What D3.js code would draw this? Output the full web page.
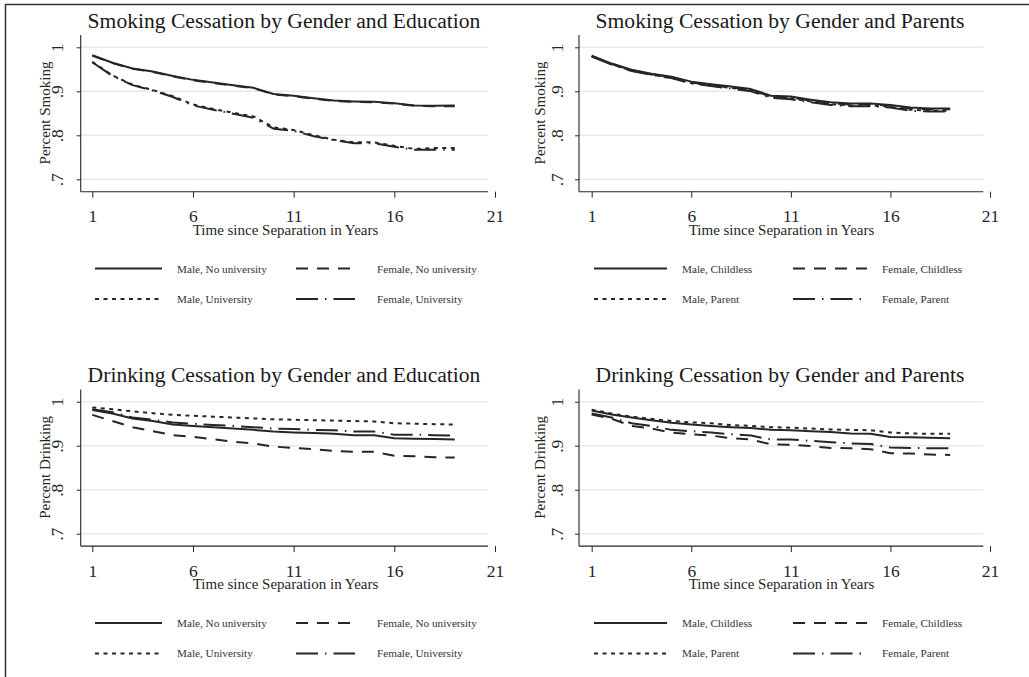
<!DOCTYPE html>
<html>
<head>
<meta charset="utf-8">
<script src="https://cdn.jsdelivr.net/npm/d3@7"></script>
<style>
  html, body { margin: 0; padding: 0; background: #fff; }
  svg { display: block; font-family: "Liberation Serif", "Times New Roman", serif; }
</style>
</head>
<body>
<svg id="chart" width="1029" height="677"></svg>
<script>
// ---- data -------------------------------------------------------------
const years = [1, 2, 3, 4, 5, 6, 7, 8, 9, 10, 11, 12, 13, 14, 15, 16, 17, 18, 19];
const xTicks = [1, 6, 11, 16, 21];
const yTicks = [0.7, 0.8, 0.9, 1];
const yTickLabels = [".7", ".8", ".9", "1"];

const panelTitles = [
  "Smoking Cessation by Gender and Education",
  "Smoking Cessation by Gender and Parents",
  "Drinking Cessation by Gender and Education",
  "Drinking Cessation by Gender and Parents"
];
const yTitles = ["Percent Smoking", "Percent Smoking", "Percent Drinking", "Percent Drinking"];
const xTitle = "Time since Separation in Years";

const eduLabels = ["Male, No university", "Female, No university", "Male, University", "Female, University"];
const parLabels = ["Male, Childless", "Female, Childless", "Male, Parent", "Female, Parent"];

// Smoking, by gender and education
const smokeMaleNoUni   = [0.982, 0.965, 0.952, 0.945, 0.935, 0.926, 0.920, 0.914, 0.908, 0.894, 0.890, 0.884, 0.879, 0.877, 0.876, 0.873, 0.868, 0.867, 0.868];
const smokeFemaleNoUni = [0.981, 0.964, 0.951, 0.944, 0.934, 0.925, 0.919, 0.913, 0.907, 0.893, 0.889, 0.883, 0.878, 0.876, 0.875, 0.872, 0.867, 0.866, 0.866];
const smokeMaleUni     = [0.967, 0.936, 0.915, 0.903, 0.889, 0.870, 0.860, 0.851, 0.843, 0.818, 0.812, 0.800, 0.790, 0.784, 0.784, 0.776, 0.769, 0.771, 0.771];
const smokeFemaleUni   = [0.966, 0.935, 0.914, 0.902, 0.887, 0.868, 0.858, 0.849, 0.840, 0.815, 0.810, 0.798, 0.789, 0.782, 0.782, 0.774, 0.767, 0.767, 0.767];

// Smoking, by gender and parenthood
const smokeMaleChildless   = [0.981, 0.963, 0.949, 0.940, 0.933, 0.922, 0.916, 0.911, 0.905, 0.890, 0.888, 0.881, 0.875, 0.872, 0.872, 0.869, 0.863, 0.861, 0.861];
const smokeFemaleChildless = [0.980, 0.962, 0.948, 0.939, 0.932, 0.920, 0.914, 0.909, 0.903, 0.888, 0.886, 0.879, 0.873, 0.870, 0.870, 0.867, 0.861, 0.859, 0.859];
const smokeMaleParent      = [0.980, 0.962, 0.947, 0.938, 0.931, 0.919, 0.913, 0.908, 0.902, 0.887, 0.884, 0.877, 0.871, 0.868, 0.868, 0.865, 0.858, 0.856, 0.856];
const smokeFemaleParent    = [0.979, 0.961, 0.946, 0.937, 0.930, 0.918, 0.912, 0.906, 0.900, 0.885, 0.882, 0.875, 0.869, 0.866, 0.866, 0.863, 0.856, 0.854, 0.854];

// Drinking, by gender and education
const drinkMaleNoUni   = [0.981, 0.973, 0.962, 0.956, 0.948, 0.945, 0.942, 0.939, 0.936, 0.932, 0.930, 0.929, 0.927, 0.924, 0.924, 0.917, 0.916, 0.915, 0.914];
const drinkFemaleNoUni = [0.970, 0.956, 0.942, 0.933, 0.924, 0.920, 0.915, 0.909, 0.905, 0.898, 0.895, 0.892, 0.888, 0.886, 0.886, 0.877, 0.876, 0.874, 0.873];
const drinkMaleUni     = [0.987, 0.983, 0.978, 0.974, 0.970, 0.968, 0.966, 0.964, 0.962, 0.960, 0.959, 0.958, 0.957, 0.956, 0.955, 0.951, 0.950, 0.949, 0.948];
const drinkFemaleUni   = [0.983, 0.976, 0.964, 0.959, 0.953, 0.950, 0.947, 0.945, 0.942, 0.939, 0.938, 0.936, 0.935, 0.932, 0.932, 0.925, 0.925, 0.924, 0.923];

// Drinking, by gender and parenthood
const drinkMaleChildless   = [0.980, 0.971, 0.964, 0.958, 0.952, 0.948, 0.945, 0.942, 0.940, 0.936, 0.935, 0.933, 0.931, 0.928, 0.927, 0.920, 0.919, 0.918, 0.917];
const drinkFemaleChildless = [0.971, 0.961, 0.945, 0.939, 0.930, 0.926, 0.923, 0.917, 0.914, 0.903, 0.902, 0.899, 0.895, 0.894, 0.892, 0.883, 0.882, 0.880, 0.879];
const drinkMaleParent      = [0.982, 0.973, 0.966, 0.961, 0.956, 0.953, 0.951, 0.947, 0.945, 0.942, 0.941, 0.939, 0.937, 0.936, 0.935, 0.930, 0.928, 0.927, 0.927];
const drinkFemaleParent    = [0.973, 0.964, 0.951, 0.945, 0.936, 0.933, 0.930, 0.926, 0.923, 0.914, 0.914, 0.911, 0.908, 0.905, 0.904, 0.896, 0.895, 0.894, 0.894];

// ---- styling ------------------------------------------------------------
const ink = "#262626";
const gridColor = "#e9e9e9";
// solid, dash, short dash, long dash-dot (one entry per series slot)
const dashes = [null, "12,9", "4,4.5", "22,7,1.5,7"];

// panel geometry (y axis position, x range, end of x axis line, vertical offset)
const layout = [
  { axisX: 80.7, x0: 92.3, x1: 495,   xEnd: 488,   dy: 0,     titleX: 284, xTitleX: 285.5, yTitleX: 49.6,  tickLabX: 63.2,
    legLine: [[95, 162], [296, 355]], legText: [177, 377] },
  { axisX: 579,  x0: 591.7, x1: 990,  xEnd: 983.3, dy: 0,     titleX: 780, xTitleX: 781.5, yTitleX: 544.6, tickLabX: 563.2,
    legLine: [[594, 667], [793, 867]], legText: [682, 882] },
  { axisX: 80.7, x0: 92.3, x1: 495,   xEnd: 488,   dy: 354.4, titleX: 284, xTitleX: 285.5, yTitleX: 49.6,  tickLabX: 63.2,
    legLine: [[95, 162], [296, 355]], legText: [177, 377] },
  { axisX: 579,  x0: 591.7, x1: 990,  xEnd: 983.3, dy: 354.4, titleX: 780, xTitleX: 781.5, yTitleX: 544.6, tickLabX: 563.2,
    legLine: [[594, 667], [793, 867]], legText: [682, 882] }
];

const panelSeries = [
  [smokeMaleNoUni, smokeFemaleNoUni, smokeMaleUni, smokeFemaleUni],
  [smokeMaleChildless, smokeFemaleChildless, smokeMaleParent, smokeFemaleParent],
  [drinkMaleNoUni, drinkFemaleNoUni, drinkMaleUni, drinkFemaleUni],
  [drinkMaleChildless, drinkFemaleChildless, drinkMaleParent, drinkFemaleParent]
];
const panelLegend = [eduLabels, parLabels, eduLabels, parLabels];

// ---- drawing ------------------------------------------------------------
const svg = d3.select("#chart");
svg.append("rect").attr("width", 1029).attr("height", 677).attr("fill", "#fff");

// outer frame (top and left edges)
svg.append("line").attr("x1", 5).attr("x2", 1029).attr("y1", 4.5).attr("y2", 4.5)
  .attr("stroke", "#333").attr("stroke-width", 1.5);
svg.append("line").attr("x1", 5.5).attr("x2", 5.5).attr("y1", 4).attr("y2", 677)
  .attr("stroke", "#333").attr("stroke-width", 1.5);

layout.forEach((L, i) => {
  const g = svg.append("g");
  const x = d3.scaleLinear().domain([1, 21]).range([L.x0, L.x1]);
  const y = d3.scaleLinear().domain([0.7, 1]).range([179.3 + L.dy, 47.3 + L.dy]);
  const yTop = 35 + L.dy, yBot = 191.7 + L.dy;

  // grid
  g.append("g").selectAll("line").data(yTicks).join("line")
    .attr("x1", L.axisX).attr("x2", L.xEnd)
    .attr("y1", d => y(d)).attr("y2", d => y(d))
    .attr("stroke", gridColor).attr("stroke-width", 1.6);

  // x axis
  const xAxis = d3.axisBottom(x).tickValues(xTicks).tickSize(6).tickFormat(d3.format("d"));
  const gx = g.append("g").attr("transform", `translate(0,${yBot})`).call(xAxis);
  gx.select(".domain").remove();
  gx.selectAll(".tick line").attr("stroke", ink).attr("stroke-width", 1);
  gx.selectAll(".tick text").attr("font-size", 17.5).attr("fill", ink)
    .attr("y", 30.6).attr("dy", 0).attr("font-family", "Liberation Serif");
  g.append("line").attr("x1", L.axisX).attr("x2", L.xEnd).attr("y1", yBot).attr("y2", yBot)
    .attr("stroke", ink).attr("stroke-width", 1.1);

  // y axis
  const yAxis = d3.axisLeft(y).tickValues(yTicks).tickSize(4).tickFormat((d, k) => yTickLabels[k]);
  const gy = g.append("g").attr("transform", `translate(${L.axisX},0)`).call(yAxis);
  gy.select(".domain").remove();
  gy.selectAll(".tick line").attr("stroke", ink).attr("stroke-width", 1);
  gy.selectAll(".tick text").attr("font-size", 17.5).attr("fill", ink)
    .attr("font-family", "Liberation Serif")
    .attr("x", null).attr("dy", null)
    .attr("text-anchor", "middle")
    .attr("transform", `translate(${L.tickLabX - L.axisX},0) rotate(-90)`);
  g.append("line").attr("x1", L.axisX).attr("x2", L.axisX).attr("y1", yTop).attr("y2", yBot)
    .attr("stroke", ink).attr("stroke-width", 1.1);

  // series
  const line = d3.line().x((d, k) => x(years[k])).y(d => y(d));
  panelSeries[i].forEach((vals, s) => {
    g.append("path").datum(vals)
      .attr("d", line)
      .attr("fill", "none")
      .attr("stroke", ink)
      .attr("stroke-width", 2)
      .attr("stroke-linejoin", "round")
      .attr("stroke-dasharray", dashes[s]);
  });

  // titles
  g.append("text").attr("x", L.titleX).attr("y", 28 + L.dy)
    .attr("text-anchor", "middle").attr("font-size", 21.6).attr("fill", "#1a1a1a")
    .text(panelTitles[i]);
  g.append("text").attr("x", L.xTitleX).attr("y", 235 + L.dy)
    .attr("text-anchor", "middle").attr("font-size", 15).attr("fill", ink)
    .text(xTitle);
  g.append("text")
    .attr("transform", `translate(${L.yTitleX},${113 + L.dy}) rotate(-90)`)
    .attr("text-anchor", "middle").attr("font-size", 15).attr("fill", ink)
    .text(yTitles[i]);

  // legend: 2 x 2
  const rows = [268.5 + L.dy, 299 + L.dy];
  panelLegend[i].forEach((lab, s) => {
    const r = Math.floor(s / 2), c = s % 2;
    g.append("line")
      .attr("x1", L.legLine[c][0]).attr("x2", L.legLine[c][1])
      .attr("y1", rows[r]).attr("y2", rows[r])
      .attr("stroke", ink).attr("stroke-width", 2)
      .attr("stroke-dasharray", dashes[s]);
    g.append("text").attr("x", L.legText[c]).attr("y", rows[r] + 4)
      .attr("font-size", 11.2).attr("fill", "#333")
      .text(lab);
  });
});
</script>
</body>
</html>
